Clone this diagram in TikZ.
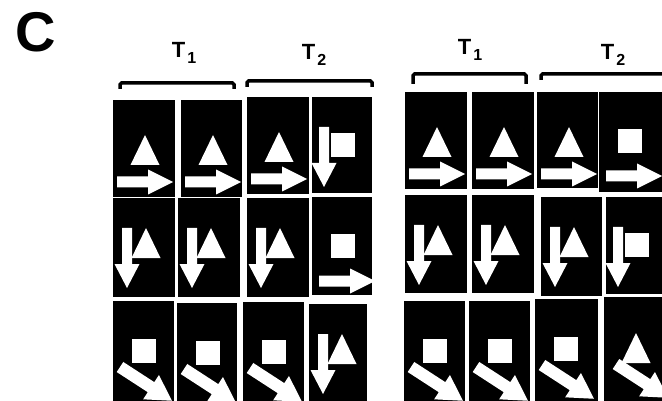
\documentclass[tikz,border=0pt]{standalone}
\usepackage{fontspec}
\setmainfont{Liberation Sans}
\newcommand\tsub[1]{\hspace{2pt}\raisebox{-6pt}{\fontsize{16}{16}\selectfont #1}}
\tikzset{
  panel/.style={fill=black, inner sep=0pt, anchor=north west, minimum width=62pt, minimum height=97pt},
  shp/.style={fill=white},
  brace/.style={line width=3.5pt, rounded corners=1.5pt},
  tlab/.style={anchor=base, font=\fontsize{22}{26}\selectfont\bfseries},
  tri/.pic={\fill[shp] (0,0) -- (14.5,30) -- (-14.5,30) -- cycle;},
  sq/.pic={\fill[shp] (0,0) rectangle (24,24);},
  rarr/.pic={\fill[shp] (0,-5.5) -- (31,-5.5) -- (31,-12.5) -- (56,0) -- (31,12.5) -- (31,5.5) -- (0,5.5) -- cycle;},
  darr/.pic={\fill[shp] (-5,0) -- (5,0) -- (5,36) -- (12.5,36) -- (0,60) -- (-12.5,36) -- (-5,36) -- cycle;},
  diarr/.pic={\fill[shp, rotate=-33] (0,-6) -- (37,-6) -- (37,-14.5) -- (62,0) -- (37,14.5) -- (37,6) -- (0,6) -- cycle;},
  trir/.pic={\pic at (32,35) {tri}; \pic at (4,82) {rarr};},
  sqr/.pic={\pic at (19,37) {sq}; \pic at (7,84) {rarr};},
  dntri/.pic={\pic at (14,30) {darr}; \pic at (33,30) {tri};},
  dnsq/.pic={\pic at (12,30) {darr}; \pic at (19,36) {sq};},
  sqdiag/.pic={\pic at (19,38) {sq}; \pic at (7,66) {diarr};},
  tridiag/.pic={\pic at (32,36) {tri}; \pic at (12,67) {diarr};},
}
\begin{document}
\begin{tikzpicture}[x=1pt, y=-1pt]
\useasboundingbox (0,0) rectangle (662,401);
\clip (0,0) rectangle (662,401);

% figure tag
\node[anchor=base west, font=\fontsize{56}{56}\selectfont\bfseries] (tagC) at (12,52) {C};

% time labels
\node[tlab] (lt1) at (184,58) {T\tsub{1}};
\node[tlab] (lt2) at (314,60) {T\tsub{2}};
\node[tlab] (rt1) at (470,55) {T\tsub{1}};
\node[tlab] (rt2) at (613,60) {T\tsub{2}};

% brackets
\draw[brace] (120,89) |- (234,83) -- (234,89);
\draw[brace] (247,87) |- (372,81) -- (372,87);
\draw[brace] (413,84) |- (526,74) -- (526,84);
\draw[brace] (541,80) |- (670,74);

% left block, row 1
\node[panel] (a11) at (113,100) {}; \pic at (a11.north west) {trir};
\node[panel, minimum width=61pt] (a12) at (181,100) {}; \pic at (a12.north west) {trir};
\node[panel] (a13) at (247,97) {}; \pic at (a13.north west) {trir};
\node[panel, minimum width=60pt, minimum height=96pt] (a14) at (312,97) {}; \pic at (a14.north west) {dnsq};
% left block, row 2
\node[panel, minimum height=99pt] (a21) at (113,198) {}; \pic at (a21.north west) {dntri};
\node[panel, minimum height=99pt] (a22) at (178,198) {}; \pic at (a22.north west) {dntri};
\node[panel, minimum height=99pt] (a23) at (247,198) {}; \pic at (a23.north west) {dntri};
\node[panel, minimum width=60pt, minimum height=98pt] (a24) at (312,197) {}; \pic at (a24.north west) {sqr};
% left block, row 3
\node[panel, minimum width=61pt, minimum height=110pt] (a31) at (113,301) {}; \pic at (a31.north west) {sqdiag};
\node[panel, minimum width=60pt, minimum height=110pt] (a32) at (177,303) {}; \pic at (a32.north west) {sqdiag};
\node[panel, minimum width=61pt, minimum height=110pt] (a33) at (243,302) {}; \pic at (a33.north west) {sqdiag};
\node[panel, minimum width=58pt, minimum height=110pt] (a34) at (309,304) {}; \pic at (a34.north west) {dntri};

% right block, row 1
\node[panel] (b11) at (405,92) {}; \pic at (b11.north west) {trir};
\node[panel] (b12) at (472,92) {}; \pic at (b12.north west) {trir};
\node[panel, minimum width=61pt, minimum height=96pt] (b13) at (537,92) {}; \pic at (b13.north west) {trir};
\node[panel, minimum width=63pt, minimum height=100pt] (b14) at (599,92) {}; \pic at (b14.north west) {sqr};
% right block, row 2
\node[panel, minimum height=98pt] (b21) at (405,195) {}; \pic at (b21.north west) {dntri};
\node[panel, minimum height=98pt] (b22) at (472,195) {}; \pic at (b22.north west) {dntri};
\node[panel, minimum width=61pt, minimum height=99pt] (b23) at (541,197) {}; \pic at (b23.north west) {dntri};
\node[panel, minimum width=60pt] (b24) at (606,197) {}; \pic at (b24.north west) {dnsq};
% right block, row 3
\node[panel, minimum width=61pt, minimum height=110pt] (b31) at (404,301) {}; \pic at (b31.north west) {sqdiag};
\node[panel, minimum width=61pt, minimum height=110pt] (b32) at (469,301) {}; \pic at (b32.north west) {sqdiag};
\node[panel, minimum width=63pt, minimum height=110pt] (b33) at (535,299) {}; \pic at (b33.north west) {sqdiag};
\node[panel, minimum width=60pt, minimum height=110pt] (b34) at (604,297) {}; \pic at (b34.north west) {tridiag};
\end{tikzpicture}
\end{document}
